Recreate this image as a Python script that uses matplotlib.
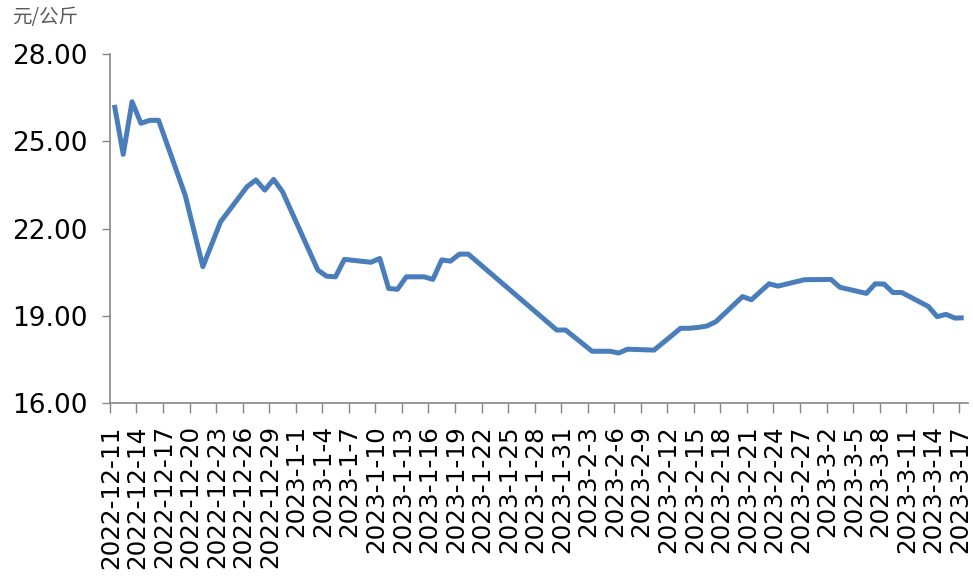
import matplotlib
matplotlib.use("Agg")
import matplotlib.pyplot as plt
import pandas as pd

# categories: one per day
cat_dates = pd.date_range("2022-12-11", "2023-03-17", freq="D")
cat_labels = [f"{d.year}-{d.month}-{d.day}" for d in cat_dates]

# price (元/公斤) at the turning points
price_dates = ["2022-12-11", "2022-12-12", "2022-12-13", "2022-12-14", "2022-12-15",
               "2022-12-16", "2022-12-19", "2022-12-21", "2022-12-23", "2022-12-26",
               "2022-12-27", "2022-12-28", "2022-12-29", "2022-12-30", "2023-01-03",
               "2023-01-04", "2023-01-05", "2023-01-06", "2023-01-09", "2023-01-10",
               "2023-01-11", "2023-01-12", "2023-01-13", "2023-01-15", "2023-01-16",
               "2023-01-17", "2023-01-18", "2023-01-19", "2023-01-20", "2023-01-30",
               "2023-01-31", "2023-02-03", "2023-02-05", "2023-02-06", "2023-02-07",
               "2023-02-10", "2023-02-13", "2023-02-14", "2023-02-15", "2023-02-16",
               "2023-02-17", "2023-02-20", "2023-02-21", "2023-02-23", "2023-02-24",
               "2023-02-27", "2023-03-02", "2023-03-03", "2023-03-06", "2023-03-07",
               "2023-03-08", "2023-03-09", "2023-03-10", "2023-03-13", "2023-03-14",
               "2023-03-15", "2023-03-16", "2023-03-17"]
price_vals = [26.25, 24.55, 26.36, 25.62, 25.72,
              25.72, 23.15, 20.69, 22.23, 23.44,
              23.67, 23.32, 23.69, 23.27, 20.57,
              20.36, 20.34, 20.94, 20.84, 20.97,
              19.94, 19.91, 20.34, 20.34, 20.25,
              20.92, 20.88, 21.12, 21.12, 18.51,
              18.51, 17.78, 17.78, 17.72, 17.85,
              17.82, 18.57, 18.57, 18.60, 18.65,
              18.80, 19.66, 19.55, 20.10, 20.02,
              20.24, 20.25, 19.98, 19.77, 20.10,
              20.09, 19.80, 19.80, 19.32, 18.97,
              19.05, 18.92, 18.93]

y_ticks = [16, 19, 22, 25, 28]

pos = {d: i for i, d in enumerate(cat_dates)}
xs = [pos[pd.Timestamp(d)] for d in price_dates]

fig = plt.figure(figsize=(9.73, 5.76), dpi=100)
ax = fig.add_axes([0.113, 0.3003, 0.882, 0.6059])

ax.plot(xs, price_vals, color="#4a7ebb", lw=3.6, solid_joinstyle="round",
        solid_capstyle="butt")

ax.set_xlim(-0.5, len(cat_dates) - 0.5)
ax.set_ylim(16, 28)

# tick marks between categories, labels near the marks
step = 3
ax.set_xticks([i - 0.5 for i in range(0, len(cat_dates), step)])
ax.set_xticklabels([])
ax.set_xticks([i - 0.4 for i in range(0, len(cat_dates), step)], minor=True)
ax.set_xticklabels(cat_labels[::step], minor=True, rotation=90, fontsize=17.7)
ax.tick_params(axis="x", which="major", length=7, width=1, color="#868686")
ax.tick_params(axis="x", which="minor", length=0, pad=16)

ax.set_yticks(y_ticks)
ax.set_yticklabels([f"{v:.2f}" for v in y_ticks], fontsize=19)
ax.tick_params(axis="y", length=6, width=1, color="#868686", pad=10)

for s in ["top", "right"]:
    ax.spines[s].set_visible(False)
for s in ["left", "bottom"]:
    ax.spines[s].set_color("#868686")
    ax.spines[s].set_linewidth(1.2)

fig.text(0.012, 0.988, "元/公斤", fontsize=14, color="#595959", va="top",
         family=["Noto Sans CJK SC", "DejaVu Sans"])

plt.savefig("out.png", dpi=100)
